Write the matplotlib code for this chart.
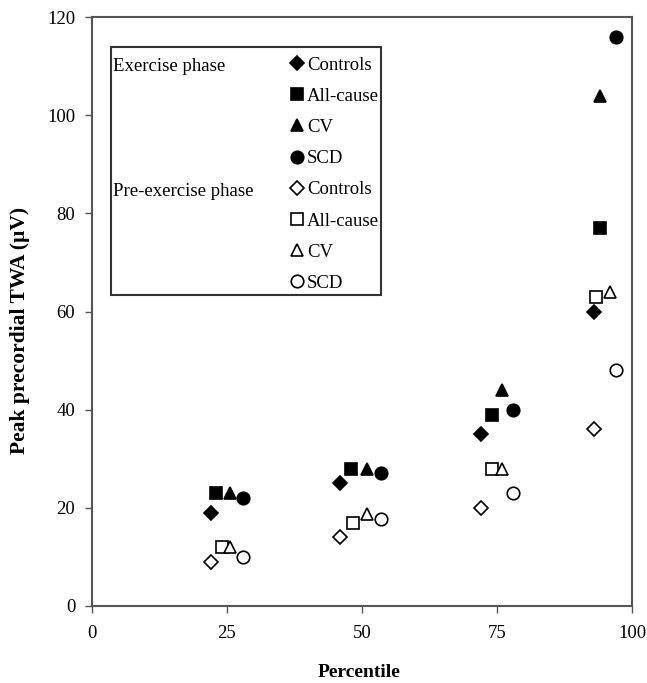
import numpy as np
import matplotlib
matplotlib.use("Agg")
from matplotlib import pyplot as plt
from matplotlib.patches import Rectangle

plt.rcParams['font.family'] = ['Liberation Serif', 'DejaVu Serif']

# exercise phase (filled markers)
ex_ctrl_x = [22, 46, 72, 93]
ex_ctrl_y = [19, 25, 35, 60]
ex_all_x = [23, 48, 74, 94]
ex_all_y = [23, 28, 39, 77]
ex_cv_x = [25.5, 51, 76, 94]
ex_cv_y = [23, 28, 44, 104]
ex_scd_x = [28, 53.5, 78, 97]
ex_scd_y = [22, 27, 40, 116]

# pre-exercise phase (open markers)
pre_ctrl_x = [22, 46, 72, 93]
pre_ctrl_y = [9, 14, 20, 36]
pre_all_x = [24, 48.3, 74, 93.3]
pre_all_y = [12, 17, 28, 63]
pre_cv_x = [25.5, 51, 76, 96]
pre_cv_y = [12, 18.7, 28, 64]
pre_scd_x = [28, 53.5, 78, 97]
pre_scd_y = [10, 17.7, 23, 48]

labels = ["Controls", "All-cause", "CV", "SCD"]

fig = plt.figure(figsize=(6.47, 6.83), dpi=100)
ax = fig.add_axes([92/647, 1-606/683, 540/647, 589/683])

ms = {'D': 7, 's': 9, '^': 9, 'o': 9}
series = [
    (ex_ctrl_x, ex_ctrl_y, 'D', True),
    (ex_all_x, ex_all_y, 's', True),
    (ex_cv_x, ex_cv_y, '^', True),
    (ex_scd_x, ex_scd_y, 'o', True),
    (pre_ctrl_x, pre_ctrl_y, 'D', False),
    (pre_all_x, pre_all_y, 's', False),
    (pre_cv_x, pre_cv_y, '^', False),
    (pre_scd_x, pre_scd_y, 'o', False),
]
handles = []
for i, (xs, ys, m, filled) in enumerate(series):
    h, = ax.plot(xs, ys, linestyle='none', marker=m, markersize=ms[m],
                 markerfacecolor='black' if filled else 'white',
                 markeredgecolor='black', markeredgewidth=1.2,
                 label=labels[i % 4], clip_on=False)
    handles.append(h)

ax.set_xlim(0, 100)
ax.set_ylim(0, 120)
ax.set_xticks([0, 25, 50, 75, 100])
ax.set_yticks(np.arange(0, 121, 20))
ax.tick_params(labelsize=13.5, direction='out', length=5, width=1, color='#555555')
ax.tick_params(axis='x', pad=9)
ax.tick_params(axis='y', pad=7)
for s in ax.spines.values():
    s.set_color('#555555')
    s.set_linewidth(1.5)

ax.set_xlabel("Percentile", fontsize=14, fontweight='bold')
ax.xaxis.set_label_coords(0.495, -0.098)
ax.set_ylabel("Peak precordial TWA (\u00b5V)", fontsize=15.5, fontweight='bold')
ax.yaxis.set_label_coords(-0.115, 0.467)

leg = ax.legend(handles=handles, loc='upper left', bbox_to_anchor=(0.370, 0.933),
                frameon=False, fontsize=13.5, borderaxespad=0, borderpad=0,
                handlelength=0.6, handletextpad=0.2, labelspacing=0.75)

ax.add_patch(Rectangle((0.035, 0.528), 0.5, 0.421, transform=ax.transAxes,
                       fill=False, edgecolor='#333333', linewidth=1.5, zorder=5))

fig.canvas.draw()
inv = ax.transAxes.inverted()
for i, lab in [(0, "Exercise phase"), (4, "Pre-exercise phase")]:
    bb = leg.get_texts()[i].get_window_extent()
    y = inv.transform((0, bb.y0))[1]
    ax.text(0.039, y + 0.004, lab, transform=ax.transAxes, fontsize=13.5, va='baseline')

fig.savefig("out.png", dpi=100)
